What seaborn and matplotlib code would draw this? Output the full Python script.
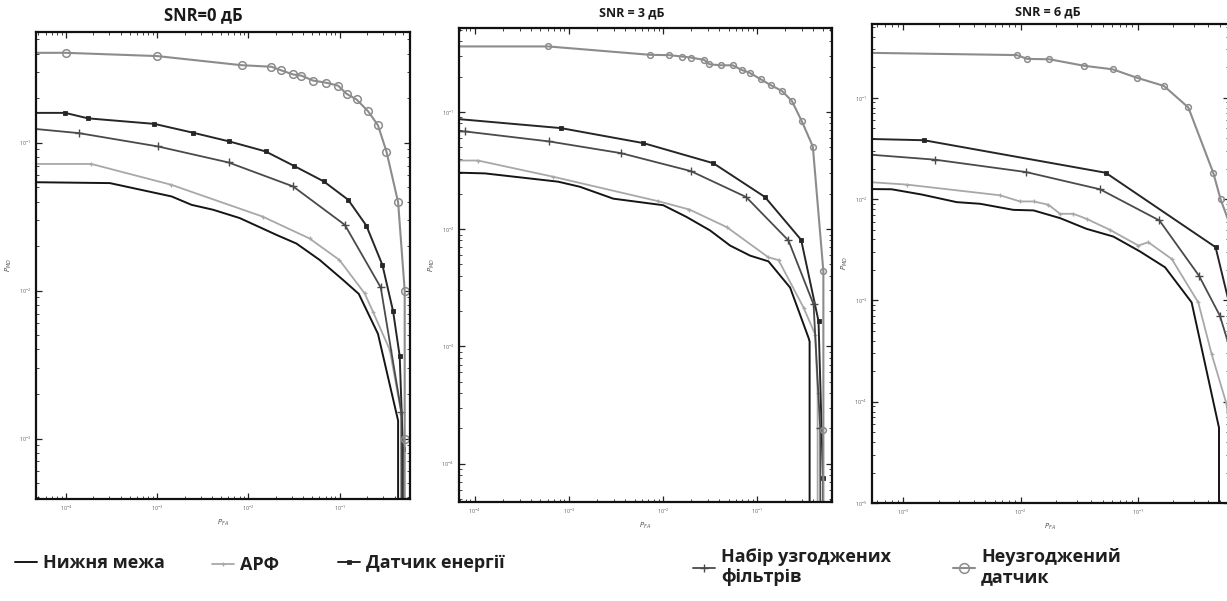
import matplotlib
matplotlib.use("Agg")
import matplotlib.pyplot as plt
from matplotlib.lines import Line2D
import seaborn as sns

# ---------------- data ----------------
titles = ["SNR=0 дБ", "SNR = 3 дБ", "SNR = 6 дБ"]
series_names = ["Нижня межа", "АРФ", "Датчик енергії",
                "Набір узгоджених\nфільтрів", "Неузгоджений\nдатчик"]

# SNR = 0 dB
lb0_x = [3.0e-5, 3.03e-4, 1.44e-3, 2.38e-3, 4.1e-3, 8.05e-3, 0.0203, 0.0336, 0.0605, 0.109, 0.162, 0.263, 0.437, 0.437]
lb0_y = [0.0542, 0.0533, 0.0433, 0.038, 0.0352, 0.0309, 0.0238, 0.0208, 0.0161, 0.0118, 0.0095, 0.0051, 0.00132, 1e-7]
apf0_x = [3.0e-5, 1.9e-4, 1.43e-3, 0.0144, 0.0468, 0.0995, 0.188, 0.232, 0.354, 0.475, 0.488]
apf0_y = [0.0718, 0.0718, 0.0519, 0.0316, 0.0225, 0.0161, 0.00957, 0.00718, 0.00398, 0.00147, 1e-7]
en0_x = [3.0e-5, 9.8e-5, 1.75e-4, 9.3e-4, 2.44e-3, 6.15e-3, 0.0154, 0.0314, 0.067, 0.124, 0.196, 0.294, 0.385, 0.455, 0.494, 0.494]
en0_y = [0.159, 0.159, 0.146, 0.134, 0.117, 0.102, 0.0873, 0.0698, 0.0547, 0.0411, 0.0275, 0.0149, 0.00726, 0.0036, 0.00085, 1e-7]
mf0_x = [3.0e-5, 1.39e-4, 1.01e-3, 6.05e-3, 0.0309, 0.114, 0.282, 0.475, 0.48]
mf0_y = [0.127, 0.116, 0.0944, 0.0735, 0.0506, 0.0278, 0.0105, 0.0015, 1e-7]
un0_x = [3.0e-5, 1e-4, 1e-3, 8.4e-3, 0.0179, 0.023, 0.031, 0.038, 0.051, 0.0716, 0.096, 0.119, 0.153, 0.205, 0.263, 0.326, 0.437, 0.516, 0.516, 0.516]
un0_y = [0.405, 0.405, 0.385, 0.334, 0.326, 0.308, 0.289, 0.284, 0.263, 0.254, 0.243, 0.214, 0.196, 0.163, 0.131, 0.087, 0.0396, 0.01, 0.001, 1e-7]

# SNR = 3 dB
lb3_x = [5.0e-5, 1.28e-4, 7.71e-4, 1.31e-3, 2.97e-3, 0.0101, 0.0179, 0.0318, 0.052, 0.0849, 0.133, 0.226, 0.355, 0.364, 0.364]
lb3_y = [0.0305, 0.0299, 0.0254, 0.0230, 0.0182, 0.0160, 0.0127, 0.00975, 0.00724, 0.00594, 0.00531, 0.00317, 0.00118, 0.0011, 1e-7]
apf3_x = [5.0e-5, 1.08e-4, 6.82e-4, 8.95e-3, 0.0192, 0.0479, 0.133, 0.170, 0.314, 0.418, 0.443, 0.443]
apf3_y = [0.0385, 0.0385, 0.0280, 0.0173, 0.0147, 0.0104, 0.00574, 0.00545, 0.00214, 0.00126, 0.0004, 1e-7]
en3_x = [5.0e-5, 8.24e-4, 6.21e-3, 0.0345, 0.122, 0.296, 0.453, 0.505, 0.505]
en3_y = [0.0887, 0.0728, 0.0542, 0.0365, 0.0188, 0.0081, 0.00164, 7.6e-5, 1e-7]
mf3_x = [4.5e-5, 7.83e-5, 6.19e-4, 3.59e-3, 0.0198, 0.0769, 0.217, 0.401, 0.472, 0.48]
mf3_y = [0.0682, 0.0682, 0.0560, 0.0445, 0.0313, 0.0188, 0.0080, 0.00228, 0.0002, 1e-7]
un3_x = [5.0e-5, 6.04e-4, 7.31e-3, 0.01175, 0.0159, 0.0198, 0.0275, 0.0313, 0.0413, 0.0555, 0.0692, 0.0836, 0.110, 0.141, 0.185, 0.236, 0.301, 0.394, 0.51, 0.51, 0.51]
un3_y = [0.362, 0.362, 0.307, 0.305, 0.297, 0.291, 0.278, 0.255, 0.250, 0.250, 0.228, 0.216, 0.190, 0.169, 0.151, 0.124, 0.0832, 0.0507, 0.00436, 1.92e-4, 1e-7]

# SNR = 6 dB
lb6_x = [4e-4, 7.94e-4, 1.43e-3, 2.85e-3, 4.51e-3, 8.67e-3, 0.0129, 0.0217, 0.0366, 0.0618, 0.104, 0.171, 0.288, 0.493, 0.493]
lb6_y = [0.0126, 0.0125, 0.0111, 0.00933, 0.00899, 0.00783, 0.00773, 0.00649, 0.00508, 0.00427, 0.00305, 0.00212, 9.55e-4, 5.53e-5, 1e-8]
apf6_x = [4e-4, 1.07e-3, 6.68e-3, 9.89e-3, 0.0129, 0.0173, 0.0217, 0.0282, 0.0366, 0.0579, 0.101, 0.123, 0.195, 0.328, 0.427, 0.573, 0.794]
apf6_y = [0.0150, 0.0139, 0.0109, 0.00948, 0.00948, 0.00879, 0.00716, 0.00716, 0.00638, 0.00497, 0.00348, 0.00375, 0.00256, 9.55e-4, 2.94e-4, 9.4e-5, 3.2e-6]
en6_x = [4e-4, 1.5e-3, 0.0532, 0.461, 0.794]
en6_y = [0.0395, 0.0381, 0.0182, 0.00335, 2.5e-4]
mf6_x = [4e-4, 1.86e-3, 0.0111, 0.0476, 0.153, 0.333, 0.502, 0.79]
mf6_y = [0.0281, 0.0245, 0.0185, 0.0125, 0.00615, 0.00175, 7.05e-4, 1.26e-4]
un6_x = [4e-4, 9.27e-3, 0.0114, 0.0176, 0.0348, 0.0611, 0.0977, 0.167, 0.270, 0.441, 0.509, 0.79]
un6_y = [0.279, 0.264, 0.242, 0.240, 0.207, 0.191, 0.158, 0.131, 0.0802, 0.0181, 0.00993, 0.0025]

panels = [
    [(lb0_x, lb0_y), (apf0_x, apf0_y), (en0_x, en0_y), (mf0_x, mf0_y), (un0_x, un0_y)],
    [(lb3_x, lb3_y), (apf3_x, apf3_y), (en3_x, en3_y), (mf3_x, mf3_y), (un3_x, un3_y)],
    [(lb6_x, lb6_y), (apf6_x, apf6_y), (en6_x, en6_y), (mf6_x, mf6_y), (un6_x, un6_y)],
]

# ---------------- styling ----------------
sns.set_style("ticks")
plt.rcParams['font.family'] = ['Open Sans', 'DejaVu Sans']
plt.rcParams['mathtext.fontset'] = 'dejavusans'

styles = [
    dict(color="#151515", lw=1.4, marker=None),
    dict(color="#a8a8a8", lw=1.3, marker="+", ms=3.5, mew=0.9, mec="#a8a8a8"),
    dict(color="#262626", lw=1.4, marker="s", ms=3.2, mew=0.6, mec="#262626"),
    dict(color="#4a4a4a", lw=1.3, marker="+", ms=6, mew=1.0, mec="#4a4a4a"),
    dict(color="#8c8c8c", lw=1.5, marker="o", ms=5.5, mew=1.1, mfc="none", mec="#8c8c8c"),
]

W, H = 1227, 601
fig = plt.figure(figsize=(W / 100, H / 100), dpi=100)

axes_px = [(36, 32, 410, 499), (459, 28, 832, 502), (872, 24, 1229, 503)]
xlims = [(4.7e-5, 0.59), (6.8e-5, 0.63), (5.4e-4, 0.60)]
ylims = [(3.9e-4, 0.56), (4.7e-5, 0.52), (1e-5, 0.535)]
title_pos = [(203, 15, 12), (632, 13, 9), (1048, 12, 9)]
ms_scale = [1.0, 0.75, 0.75]

for i, (l, t, r, b) in enumerate(axes_px):
    ax = fig.add_axes([l / W, (H - b) / H, (r - l) / W, (b - t) / H])
    ax.set_xscale("log")
    ax.set_yscale("log")
    for j, (xs, ys) in enumerate(panels[i]):
        st = dict(styles[j])
        if j == 4:
            st["ms"] = st["ms"] * ms_scale[i]
        if st["marker"] is None:
            st.pop("marker")
        sns.lineplot(x=xs, y=ys, ax=ax, sort=False, estimator=None, **st)
    ax.set_xlim(*xlims[i])
    ax.set_ylim(*ylims[i])
    for s in ax.spines.values():
        s.set_linewidth(1.6)
        s.set_color("#111111")
    ax.tick_params(which="both", direction="in", top=True, right=True,
                   labelsize=4, labelcolor="#666666", color="#222222")
    ax.tick_params(which="major", length=4, width=0.9)
    ax.tick_params(which="minor", length=2, width=0.6)
    ax.set_xlabel(r"$P_{FA}$", fontsize=5, color="#555555", labelpad=3)
    ax.set_ylabel(r"$P_{MD}$", fontsize=5, color="#555555", labelpad=3)
    ax.grid(False)
    tx, ty, fs = title_pos[i]
    fig.text(tx / W, 1 - ty / H, titles[i], ha="center", va="center",
             fontsize=fs, fontweight="bold", color="#1a1a1a")

# ---------------- legend (bottom) ----------------
leg_pos = [(15, 563), (212, 565), (338, 563), (693, 567), (953, 567)]
leg_font = dict(family=['Open Sans', 'DejaVu Sans'], weight='bold', size=13)
for j, name in enumerate(series_names):
    st = dict(styles[j])
    if st["marker"] is None:
        st.pop("marker")
    if j == 4:
        st["ms"] = 7
    h = Line2D([], [], **st)
    lx, ly = leg_pos[j]
    fig.legend(handles=[h], labels=[name], loc="center left",
               bbox_to_anchor=(lx / W, 1 - ly / H), frameon=False,
               borderpad=0, borderaxespad=0, handlelength=1.2,
               handletextpad=0.35, prop=leg_font, labelcolor="#1f1f1f",
               labelspacing=0.1)

fig.savefig("out.png", dpi=100)
